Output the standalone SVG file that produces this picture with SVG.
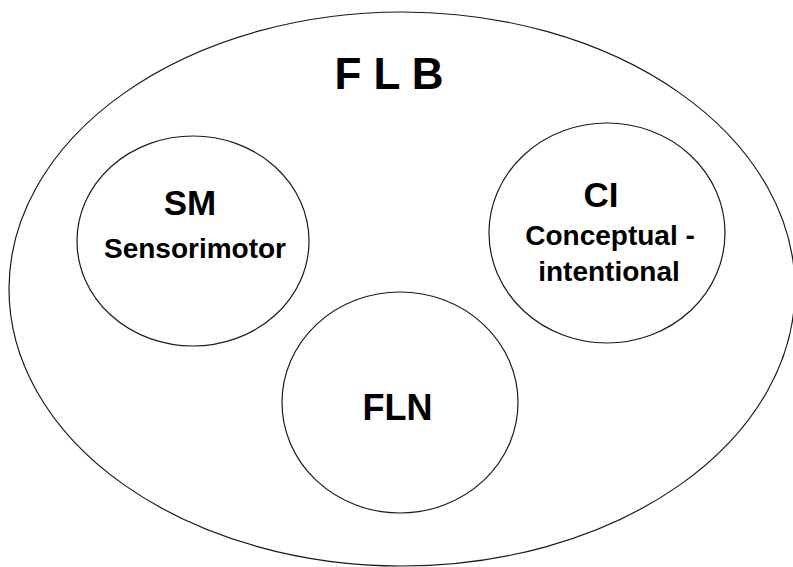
<svg xmlns="http://www.w3.org/2000/svg" width="793" height="567" viewBox="0 0 793 567">
<style>
.shape{fill:none;stroke:#1a1a1a;stroke-width:1.2}
.t{font-family:"Liberation Sans",Arial,sans-serif;font-weight:bold;fill:#000;text-anchor:middle}
.big{font-size:35px}
.small{font-size:28px}
</style>
<rect width="793" height="567" fill="#fff"/>
<g id="FLB">
<ellipse class="shape" cx="402" cy="289" rx="393" ry="277"/>
<text class="t" x="389" y="89" font-size="44">F L B</text>
</g>
<g id="SM">
<ellipse class="shape" cx="193" cy="241" rx="116" ry="105"/>
<text class="t big" x="190" y="215">SM</text>
<text class="t small" x="195" y="258">Sensorimotor</text>
</g>
<g id="CI">
<ellipse class="shape" cx="607" cy="233" rx="118" ry="110"/>
<text class="t big" x="601" y="207">CI</text>
<text class="t small" x="610" y="245">Conceptual -</text>
<text class="t small" x="609" y="281">intentional</text>
</g>
<g id="FLN">
<ellipse class="shape" cx="400" cy="402.5" rx="118" ry="110.5"/>
<text class="t" x="397.5" y="420" font-size="36">FLN</text>
</g>
<g id="connectors"/>
</svg>
